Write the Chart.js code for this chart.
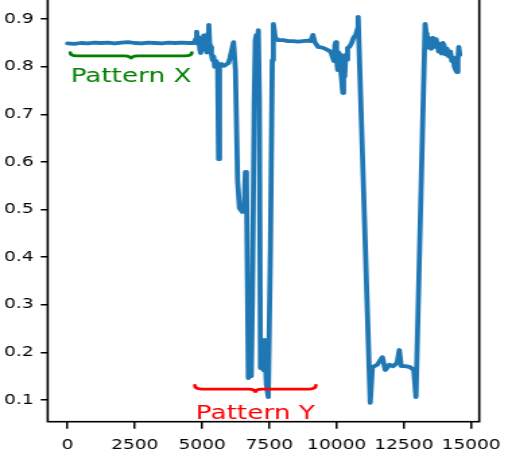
<!DOCTYPE html>
<html lang="en">
<head>
<meta charset="UTF-8" />
<title>Pattern X / Pattern Y</title>
<script src="https://cdn.jsdelivr.net/npm/chart.js"></script>
<style>
    html, body { margin: 0; padding: 0; background: #fff; }
    #wrap { width: 512px; height: 461px; overflow: hidden; position: relative; }
    /* the reference is stretched sideways, so the canvas is too */
    #chart { position: absolute; left: 0; top: -20px; transform: scaleX(1.3474); transform-origin: 0 0; }
</style>
</head>
<body>
<div id="wrap"><canvas id="chart" width="380" height="481"></canvas></div>
<script>
const xs = [0, 250, 500, 750, 1000, 1250, 1500, 1750, 2000, 2250, 2500, 2750, 3000, 3250, 3500, 3750, 4000, 4250, 4500, 4700,
    4760, 4800, 4840, 4880, 4920, 4950, 4990, 5030, 5060, 5100, 5140, 5180, 5220, 5250, 5280, 5320, 5350, 5390, 5430, 5470,
    5520, 5580, 5615, 5650, 5720, 5800, 5900, 5980, 6040, 6100, 6170, 6240, 6320, 6390, 6500, 6570, 6610, 6650, 6690, 6720,
    6800, 6830, 6870, 6940, 6980, 7020, 7060, 7090, 7130, 7170, 7240, 7280, 7320, 7390, 7460, 7540, 7610, 7650, 7720, 7830,
    8010, 8200, 8380, 8570, 8750, 8930, 9040, 9120, 9190, 9310, 9490, 9680, 9790, 9850, 9900, 9940, 9970, 10000, 10040, 10080,
    10120, 10160, 10190, 10230, 10260, 10300, 10340, 10380, 10410, 10480, 10560, 10630, 10710, 10780, 10800, 11250, 11300, 11330, 11510, 11700,
    11810, 11960, 12100, 12250, 12330, 12400, 12550, 12730, 12870, 12950, 13290, 13330, 13360, 13400, 13440, 13470, 13520, 13580, 13640, 13700,
    13730, 13790, 13840, 13900, 13950, 13990, 14050, 14100, 14170, 14230, 14280, 14330, 14380, 14430, 14470, 14510, 14540, 14580];
const ys = [0.849, 0.848, 0.850, 0.849, 0.851, 0.850, 0.851, 0.849, 0.851, 0.852, 0.850, 0.849, 0.851, 0.850, 0.849, 0.851, 0.850, 0.851, 0.850, 0.850,
    0.858, 0.874, 0.848, 0.862, 0.835, 0.829, 0.858, 0.840, 0.866, 0.836, 0.852, 0.830, 0.870, 0.888, 0.850, 0.842, 0.825, 0.814, 0.822, 0.800,
    0.812, 0.806, 0.606, 0.802, 0.806, 0.802, 0.805, 0.808, 0.820, 0.834, 0.852, 0.793, 0.562, 0.503, 0.495, 0.510, 0.579, 0.562, 0.331, 0.146,
    0.159, 0.150, 0.310, 0.730, 0.856, 0.867, 0.835, 0.877, 0.730, 0.167, 0.174, 0.163, 0.226, 0.132, 0.106, 0.415, 0.814, 0.890, 0.861, 0.856,
    0.856, 0.854, 0.854, 0.853, 0.854, 0.855, 0.854, 0.867, 0.852, 0.842, 0.840, 0.835, 0.831, 0.820, 0.812, 0.845, 0.852, 0.815, 0.793, 0.830,
    0.825, 0.790, 0.772, 0.745, 0.795, 0.779, 0.825, 0.815, 0.840, 0.842, 0.850, 0.861, 0.867, 0.880, 0.905, 0.094, 0.140, 0.169, 0.174, 0.190,
    0.163, 0.174, 0.171, 0.178, 0.205, 0.171, 0.171, 0.169, 0.163, 0.106, 0.890, 0.870, 0.845, 0.862, 0.840, 0.855, 0.838, 0.861, 0.842, 0.858,
    0.850, 0.832, 0.848, 0.828, 0.850, 0.846, 0.826, 0.838, 0.822, 0.832, 0.812, 0.820, 0.800, 0.793, 0.789, 0.815, 0.842, 0.825];

const xTicks = [0, 2500, 5000, 7500, 10000, 12500, 15000];
const yTicks = [0.1, 0.2, 0.3, 0.4, 0.5, 0.6, 0.7, 0.8, 0.9];

// annotations (braces + labels), in data units
const notes = ['Pattern X', 'Pattern Y'];
const noteColors = ['green', 'red'];
const braceFrom = [100, 4730];
const braceTo = [4620, 9230];
const braceEdge = [0.830, 0.131];
const braceTip = [0.816, 0.115];
const noteBase = [0.768, 0.060];

const tickFont = { family: 'DejaVu Sans', size: 13.8 };

const frameAndNotes = {
    id: 'frameAndNotes',
    afterDraw(chart) {
        const { ctx, chartArea: a, scales: { x, y } } = chart;
        ctx.save();
        ctx.strokeStyle = '#000';
        ctx.lineWidth = 1.6;
        ctx.strokeRect(a.left, a.top, a.right - a.left, a.bottom - a.top);
        notes.forEach((txt, i) => {
            const x1 = x.getPixelForValue(braceFrom[i]);
            const x2 = x.getPixelForValue(braceTo[i]);
            const xm = (x1 + x2) / 2;
            const ye = y.getPixelForValue(braceEdge[i]);
            const yt = y.getPixelForValue(braceTip[i]);
            const yb = (ye + yt) / 2;
            const r = 5;
            ctx.strokeStyle = noteColors[i];
            ctx.lineWidth = 2.7;
            ctx.lineCap = 'round';
            ctx.beginPath();
            ctx.moveTo(x1, ye);
            ctx.quadraticCurveTo(x1, yb, x1 + r, yb);
            ctx.lineTo(xm - r, yb);
            ctx.quadraticCurveTo(xm, yb, xm, yt);
            ctx.quadraticCurveTo(xm, yb, xm + r, yb);
            ctx.lineTo(x2 - r, yb);
            ctx.quadraticCurveTo(x2, yb, x2, ye);
            ctx.stroke();
            ctx.fillStyle = noteColors[i];
            ctx.font = '19.5px "DejaVu Sans"';
            ctx.textAlign = 'center';
            ctx.textBaseline = 'alphabetic';
            ctx.fillText(txt, xm, y.getPixelForValue(noteBase[i]));
        });
        ctx.restore();
    }
};

new Chart(document.getElementById('chart'), {
    type: 'line',
    data: {
        datasets: [{
            data: xs.map((v, i) => ({ x: v, y: ys[i] })),
            borderColor: '#1f77b4',
            borderWidth: 3.8,
            pointRadius: 0,
            tension: 0,
            borderJoinStyle: 'round',
            borderCapStyle: 'round',
            fill: false
        }]
    },
    options: {
        responsive: false,
        animation: false,
        events: [],
        layout: { padding: { top: 13.5, right: 21.8, left: 0, bottom: 0 } },
        plugins: { legend: { display: false }, tooltip: { enabled: false } },
        scales: {
            x: {
                type: 'linear',
                min: -737,
                max: 15302,
                afterBuildTicks: s => { s.ticks = xTicks.map(v => ({ value: v })); },
                afterFit: s => { s.height = 39.3; },
                ticks: { callback: v => String(v), font: tickFont, color: '#000', padding: 8, maxRotation: 0, autoSkip: false },
                grid: { drawOnChartArea: false, drawTicks: true, tickLength: 7, color: '#000', lineWidth: 1.5 },
                border: { display: false }
            },
            y: {
                min: 0.0544,
                max: 0.954,
                afterBuildTicks: s => { s.ticks = yTicks.map(v => ({ value: v })); },
                afterFit: s => { s.width = 35.4; },
                ticks: { callback: v => v.toFixed(1), font: tickFont, color: '#000', padding: 5.2, autoSkip: false },
                grid: { drawOnChartArea: false, drawTicks: true, tickLength: 5.2, color: '#000', lineWidth: 1.5 },
                border: { display: false }
            }
        }
    },
    plugins: [frameAndNotes]
});
</script>
</body>
</html>
